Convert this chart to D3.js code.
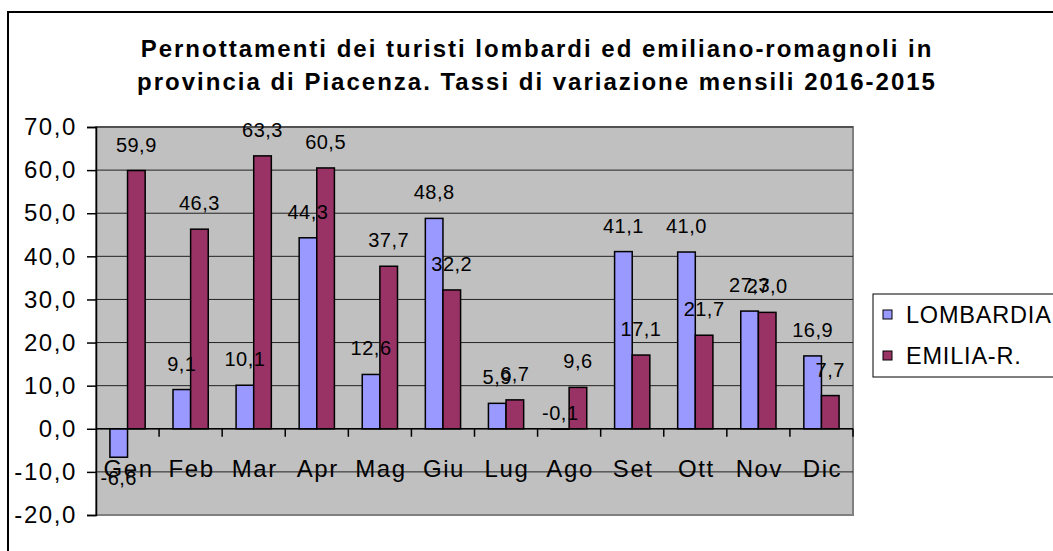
<!DOCTYPE html>
<html>
<head>
<meta charset="utf-8">
<script src="https://cdn.jsdelivr.net/npm/d3@7"></script>
<style>
  body { margin: 0; background: #fff; }
  svg text { font-family: "Liberation Sans", Arial, sans-serif; fill: #000; }
</style>
</head>
<body>
<svg id="chart" width="1053" height="551"></svg>
<script>
const months = ['Gen', 'Feb', 'Mar', 'Apr', 'Mag', 'Giu', 'Lug', 'Ago', 'Set', 'Ott', 'Nov', 'Dic']
const series = ['LOMBARDIA', 'EMILIA-R.']
const lombardia = [-6.6, 9.1, 10.1, 44.3, 12.6, 48.8, 5.9, -0.1, 41.1, 41.0, 27.3, 16.9]
const emilia = [59.9, 46.3, 63.3, 60.5, 37.7, 32.2, 6.7, 9.6, 17.1, 21.7, 27.0, 7.7]
const yTicks = [70, 60, 50, 40, 30, 20, 10, 0, -10, -20]
const titleLines = [
	'Pernottamenti dei turisti lombardi ed emiliano-romagnoli in',
	'provincia di Piacenza. Tassi di variazione mensili 2016-2015'
]
const colors = ['#9999FF', '#993366']

const data = months.map((m, i) => ({ month: m, values: [lombardia[i], emilia[i]] }))

const svg = d3.select('#chart')
// italian style numbers: comma decimals, plain hyphen for minus
const fmt = v => d3.format('.1f')(v).replace('.', ',').replace('\u2212', '-')

// outer chart border (runs off the right and bottom edge)
svg.append('path')
	.attr('d', 'M8,560 L8,12 L1060,12')
	.attr('fill', 'none')
	.attr('stroke', '#000')
	.attr('stroke-width', 2)

// title
svg.append('g').selectAll('text')
	.data(titleLines)
	.enter().append('text')
	.attr('x', 537)
	.attr('y', (d, i) => 57 + i * 33)
	.attr('text-anchor', 'middle')
	.style('font-size', '24px')
	.style('font-weight', 'bold')
	.style('letter-spacing', '2px')
	.text(d => d)

const plot = { left: 96, right: 853, top: 127, bottom: 515 }

const xScale = d3.scaleBand()
	.domain(months)
	.range([plot.left, plot.right])
	.padding(0)

const xSub = d3.scaleBand()
	.domain(series)
	.range([0, xScale.bandwidth()])
	.paddingOuter(0.79)
	.paddingInner(0)

const yScale = d3.scaleLinear()
	.domain([-20, 70])
	.range([plot.bottom, plot.top])

// plot background
svg.append('rect')
	.attr('x', plot.left)
	.attr('y', plot.top)
	.attr('width', plot.right - plot.left)
	.attr('height', plot.bottom - plot.top)
	.attr('fill', '#C0C0C0')
	.attr('stroke', '#808080')
	.attr('stroke-width', 2)

// gridlines
svg.append('g').selectAll('line')
	.data(yTicks.filter(d => d != -20))
	.enter().append('line')
	.attr('x1', plot.left)
	.attr('x2', plot.right)
	.attr('y1', d => yScale(d))
	.attr('y2', d => yScale(d))
	.attr('stroke', '#222')
	.attr('stroke-width', 1)

// y axis
const yAxis = d3.axisLeft(yScale)
	.tickValues(yTicks)
	.tickSize(9)
	.tickFormat(fmt)

const yAxisG = svg.append('g')
	.attr('transform', `translate(${plot.left}, 0)`)
	.call(yAxis)

yAxisG.select('.domain').attr('stroke', '#000').attr('stroke-width', 1.5)
yAxisG.selectAll('.tick line').attr('stroke', '#000').attr('stroke-width', 1.5)
yAxisG.selectAll('.tick text')
	.attr('x', -19)
	.style('font-size', '24px')
	.style('letter-spacing', '1.6px')
	.style('font-family', '"Liberation Sans", Arial, sans-serif')

// bars
const groups = svg.append('g').selectAll('g')
	.data(data)
	.enter().append('g')
	.attr('transform', d => `translate(${xScale(d.month)}, 0)`)

groups.selectAll('rect')
	.data(d => d.values.map((v, i) => ({ key: series[i], value: v, idx: i })))
	.enter().append('rect')
	.attr('x', d => xSub(d.key))
	.attr('y', d => yScale(Math.max(0, d.value)))
	.attr('width', xSub.bandwidth())
	.attr('height', d => Math.abs(yScale(d.value) - yScale(0)))
	.attr('fill', d => colors[d.idx])
	.attr('stroke', '#000')
	.attr('stroke-width', 1.5)

// x axis at zero
const xAxisG = svg.append('g')
	.attr('transform', `translate(0, ${yScale(0)})`)

xAxisG.append('line')
	.attr('x1', plot.left)
	.attr('x2', plot.right)
	.attr('stroke', '#000')
	.attr('stroke-width', 1.5)

xAxisG.selectAll('.xtick')
	.data(months.slice(1).concat(['end']))
	.enter().append('line')
	.attr('class', 'xtick')
	.attr('x1', d => d == 'end' ? plot.right : xScale(d))
	.attr('x2', d => d == 'end' ? plot.right : xScale(d))
	.attr('y1', 0)
	.attr('y2', 8)
	.attr('stroke', '#000')
	.attr('stroke-width', 1.5)

xAxisG.selectAll('.xlabel')
	.data(months)
	.enter().append('text')
	.attr('class', 'xlabel')
	.attr('x', d => xScale(d) + xScale.bandwidth() / 2 + 1)
	.attr('y', 48)
	.attr('text-anchor', 'middle')
	.style('font-size', '24px')
	.style('letter-spacing', '1.6px')
	.text(d => d)

// data labels
groups.selectAll('text')
	.data(d => d.values.map((v, i) => ({ key: series[i], value: v })))
	.enter().append('text')
	.attr('x', d => xSub(d.key) + xSub.bandwidth() / 2)
	.attr('y', d => {
		if (d.value >= 0) return yScale(d.value) - 19
		if (yScale(d.value) - yScale(0) > 10) return yScale(d.value) + 28
		return yScale(0) - 9
	})
	.attr('text-anchor', 'middle')
	.style('font-size', '20px')
	.style('letter-spacing', '0.5px')
	.text(d => fmt(d.value))

// legend
const legend = svg.append('g')

legend.append('rect')
	.attr('x', 873)
	.attr('y', 294)
	.attr('width', 200)
	.attr('height', 83)
	.attr('fill', '#fff')
	.attr('stroke', '#000')
	.attr('stroke-width', 1)

const legendItems = legend.selectAll('g')
	.data(series)
	.enter().append('g')
	.attr('transform', (d, i) => `translate(883, ${310 + i * 41})`)

legendItems.append('rect')
	.attr('width', 9)
	.attr('height', 9)
	.attr('fill', (d, i) => colors[i])
	.attr('stroke', '#000')
	.attr('stroke-width', 1)

legendItems.append('text')
	.attr('x', 23)
	.attr('y', 13)
	.style('font-size', '23.5px')
	.style('letter-spacing', '0.8px')
	.text(d => d)
</script>
</body>
</html>
